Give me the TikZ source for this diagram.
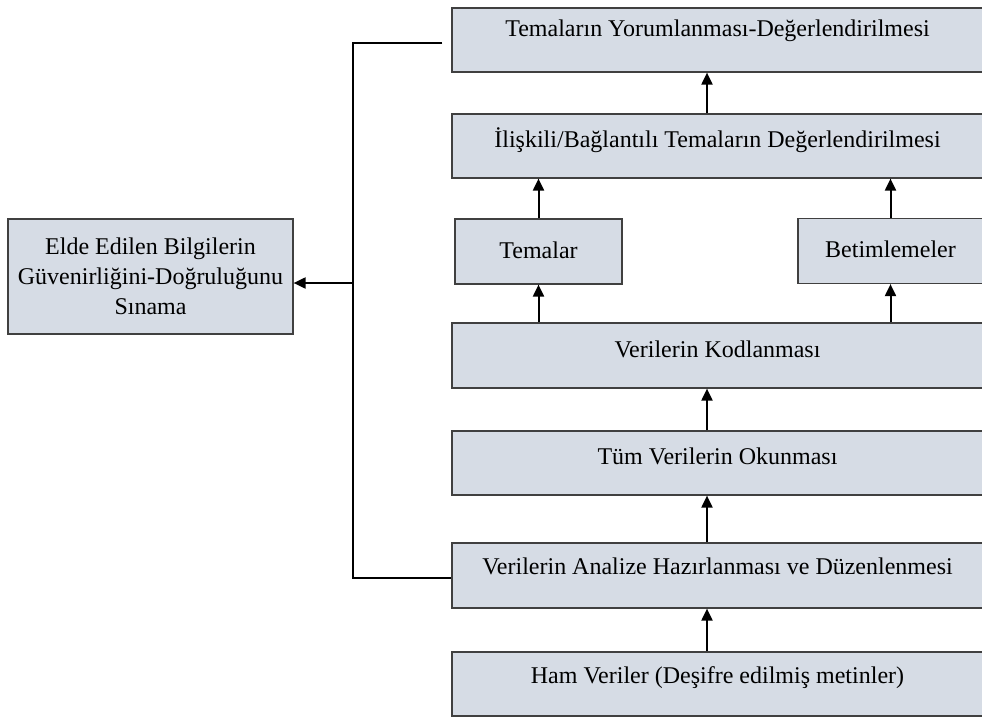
\documentclass[tikz,border=0pt]{standalone}
\usepackage{fontspec}
\setmainfont{Liberation Serif}
\usetikzlibrary{arrows.meta, positioning}
\definecolor{stagefill}{RGB}{214,220,229}
\definecolor{stageline}{RGB}{64,64,64}
\tikzset{
    stage/.style 2 args = {
      draw=stageline, fill=stagefill, line width=0.6pt, inner sep=0,
      minimum width=265.5pt, text height=#1, text depth=#2,
      font=\fontsize{12}{15}\selectfont,
    },
    small stage/.style = {
      stage={19.5pt}{13pt}, minimum width=#1,
    },
    check box/.style = {
      draw=stageline, fill=stagefill, line width=0.6pt, align=center,
      minimum width=142.5pt, minimum height=57.5pt, inner sep=0,
      font=\fontsize{12}{15}\selectfont,
    },
    flow/.style = {
      line width=1pt, arrows={-Triangle[width=5.5pt, length=6pt]},
    },
    link/.style = {
      line width=1pt,
    },
}

\begin{document}
\begin{tikzpicture}[x=0.5pt, y=-0.5pt]
    \useasboundingbox (0,0) rectangle (982,718);
    \clip (0,0) rectangle (982,718);

    %% Main column of stages, read from the bottom up
    \node [stage={15.5pt}{16.5pt}] (ham) at (717.5,684) {Ham Veriler (Deşifre edilmiş metinler)};
    \node [stage={15.5pt}{17pt}] (hazirlik) at (717.5,575.5) {Verilerin Analize Hazırlanması ve Düzenlenmesi};
    \node [stage={16.5pt}{15.5pt}] (okuma) at (717.5,463) {Tüm Verilerin Okunması};
    \node [stage={17pt}{15.5pt}] (kodlama) at (717.5,355.5) {Verilerin Kodlanması};
    \node [small stage=83.5pt] (temalar) at (538.5,251.5) {Temalar};
    \node [small stage=92.5pt] (betim) at (890.5,251) {Betimlemeler};
    \node [stage={16.5pt}{15.5pt}] (iliski) at (717.5,146) {İlişkili/Bağlantılı Temaların Değerlendirilmesi};
    \node [stage={14pt}{18pt}] (yorum) at (717.5,40) {Temaların Yorumlanması-Değerlendirilmesi};

    %% Reliability check on the left
    \node [check box] (guven) at (150.5,276.5) {Elde Edilen Bilgilerin\\Güvenirliğini-Doğruluğunu\\Sınama};

    %% Upward flow between the stages
    \coordinate (axis) at (707,0);
    \draw [flow] (ham.north -| axis) -- (hazirlik.south -| axis);
    \draw [flow] (hazirlik.north -| axis) -- (okuma.south -| axis);
    \draw [flow] (okuma.north -| axis) -- (kodlama.south -| axis);
    \draw [flow] (kodlama.north -| temalar) -- (temalar.south);
    \draw [flow] (kodlama.north -| betim) -- (betim.south);
    \draw [flow] (temalar.north) -- (temalar.north |- iliski.south);
    \draw [flow] (betim.north) -- (betim.north |- iliski.south);
    \draw [flow] (iliski.north -| axis) -- (yorum.south -| axis);

    %% Bracket feeding the check
    \coordinate (bus) at (353,0);
    \coordinate (top end) at ([shift={(-9,3)}]yorum.west);
    \coordinate (low end) at ([yshift=-1.25pt]hazirlik.west);
    \coordinate (tap) at ([yshift=-3.25pt]guven.east);
    \draw [link] (top end) -| (bus |- low end) -- (low end);
    \draw [flow] (bus |- tap) -- (tap);
\end{tikzpicture}
\end{document}
